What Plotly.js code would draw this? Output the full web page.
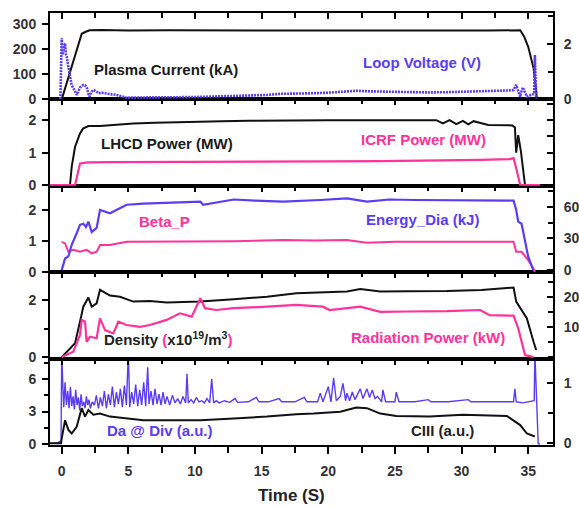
<!DOCTYPE html>
<html><head><meta charset="utf-8">
<script src="https://cdn.plot.ly/plotly-3.0.1.min.js"></script>
<style>html,body{margin:0;padding:0;background:#fff;} #chart{width:579px;height:507px;}</style>
</head><body><div id="chart"></div>
<script>
// ---------------- DATA ----------------
// Panel 1: Plasma current (kA, left) and loop voltage (V, right)
const tIp = [0, 0.5, 1.0, 1.5, 1.8, 2.1, 3, 5, 8, 10,
  12, 15, 18, 20, 22, 25, 28, 30, 32, 34.4,
  34.7, 35.0, 35.2, 35.4, 35.55, 35.65];
const plasmaCurrent = [0, 88, 176, 262, 270, 276, 277, 275, 276, 275,
  276, 275, 275, 274, 275, 275, 274, 275, 275, 276,
  250, 210, 172, 125, 60, 0];
const tVl = [-0.1, 0, 0.06, 0.12, 0.18, 0.25, 0.32, 0.38, 0.45, 0.5,
  0.57, 0.63, 0.75, 0.88, 1.0, 1.13, 1.25, 1.38, 1.5, 1.63,
  1.75, 1.88, 2.0, 2.08, 2.2, 2.38, 2.55, 2.75, 3.0, 3.38,
  3.75, 4.13, 4.5, 4.88, 6, 7.88, 9, 10.4, 11.5, 12.9,
  14, 15.4, 16.4, 17.6, 18.9, 20, 21, 22.1, 23, 23.9,
  25, 26, 27.6, 29, 30, 31.4, 32.5, 33.5, 33.9, 34.1,
  34.25, 34.4, 34.5, 34.6, 34.75, 34.9, 35.1, 35.3, 35.45, 35.5,
  35.55, 35.6];
const loopVoltage = [0.01, 2.19, 1.6, 1.77, 1.95, 2.01, 1.6, 1.53, 1.3, 1.17,
  0.95, 0.70, 0.5, 0.40, 0.25, 0.16, 0.3, 0.43, 0.48, 0.52,
  0.5, 0.43, 0.2, 0.10, 0.25, 0.34, 0.3, 0.22, 0.24, 0.2,
  0.18, 0.16, 0.1, 0.06, 0.07, 0.06, 0.08, 0.09, 0.1, 0.12,
  0.14, 0.16, 0.2, 0.2, 0.22, 0.24, 0.27, 0.31, 0.29, 0.28,
  0.27, 0.26, 0.25, 0.26, 0.27, 0.28, 0.3, 0.32, 0.34, 0.52,
  0.3, 0.1, 0.3, 0.43, 0.25, 0.1, 0.14, 0.16, 0.2, 1.59,
  0.8, 0.03];

// Panel 2: LHCD power and ICRF power (MW)
const tLh = [-0.9, 0.62, 0.75, 1.0, 1.2, 1.37, 1.6, 2.0, 2.87, 4,
  5.37, 7, 8.5, 10.4, 12, 14, 16, 17.6, 20, 23,
  26, 28.1, 28.6, 29.1, 29.6, 30.1, 30.5, 30.9, 32, 33.8,
  34.0, 34.1, 34.25, 34.45, 34.76, 35.9];
const lhcdPower = [0, 0, 0.57, 1.18, 1.4, 1.59, 1.74, 1.82, 1.82, 1.86,
  1.90, 1.92, 1.94, 1.97, 1.97, 1.98, 1.99, 2.0, 2.0, 2.0,
  2.0, 2.0, 1.9, 2.0, 1.88, 1.98, 1.87, 1.97, 1.85, 1.84,
  1.78, 1.0, 1.54, 1.05, 0, 0];
const tIc = [-0.9, 1.0, 1.37, 2, 4, 7, 10, 13, 16.4, 20,
  23.9, 27, 31.4, 33.6, 33.9, 34.1, 34.25, 34.4, 35.9];
const icrfPower = [0, 0, 0.67, 0.7, 0.71, 0.71, 0.72, 0.71, 0.72, 0.73,
  0.74, 0.75, 0.78, 0.80, 0.83, 0.52, 0.26, 0, 0];

// Panel 3: Beta_P (left) and diamagnetic energy (kJ, right)
const tBp = [0, 0.25, 0.5, 0.87, 1.37, 1.87, 2.25, 2.62, 2.87, 3.62,
  4.87, 7, 10.4, 13, 16.6, 19, 21.4, 22.9, 25, 28.9,
  31.5, 33.9, 34.1, 34.5, 35.0, 35.38, 35.5];
const betaP = [0.98, 0.93, 0.66, 0.72, 0.66, 0.72, 0.61, 0.66, 0.88, 0.88,
  0.98, 0.98, 0.98, 1.0, 1.04, 1.02, 1.04, 0.95, 0.98, 0.98,
  0.98, 0.98, 0.66, 0.66, 0.39, 0.13, 0];
const tWd = [0, 0.25, 0.5, 0.75, 1.12, 1.37, 1.62, 1.82, 2.0, 2.25,
  2.62, 2.87, 3.62, 4.87, 6.12, 8, 10.4, 10.6, 12.9, 14.5,
  16.6, 19.4, 21.4, 22.9, 24.6, 26.5, 28.9, 31.5, 33.9, 34.1,
  34.25, 34.5, 34.76, 35.0, 35.38];
const energyDia = [0, 11, 13, 24, 35, 43, 44, 41, 46, 36,
  40, 57, 54, 62, 63, 64, 65, 62, 67, 66,
  65, 66.5, 68, 65, 67, 66.5, 66.5, 66, 66, 57,
  46, 44, 28.5, 12.7, 0];

// Panel 4: density (1e19 m^-3, left) and radiation power (kW, right)
const tNe = [0, 0.37, 1.0, 1.37, 1.62, 2.0, 2.25, 2.62, 2.87, 3.62,
  4.37, 5.37, 6.62, 7.87, 10.4, 12.9, 15.4, 17.6, 20, 21.4,
  22.4, 23.9, 26, 28.9, 31.5, 33.9, 34.1, 34.4, 34.9, 35.4,
  35.6];
const density = [0, 0.19, 0.49, 1.24, 1.77, 2.09, 1.77, 1.89, 2.36, 2.16,
  2.12, 1.95, 1.97, 1.92, 1.95, 2.03, 2.12, 2.24, 2.27, 2.30,
  2.39, 2.30, 2.31, 2.32, 2.36, 2.44, 1.95, 1.72, 1.36, 0.54,
  0.25];
const tPr = [0, 0.87, 1.37, 1.5, 1.75, 1.87, 2.12, 2.62, 2.87, 3.25,
  3.87, 4.25, 4.87, 5.87, 6.62, 7.87, 8.87, 9.75, 10.4, 10.75,
  11.6, 12.9, 15.4, 17.6, 19.6, 20.1, 22.4, 23.9, 26, 28.9,
  31.4, 32.1, 33.9, 34.25, 34.76, 35.4];
const radPower = [0, 18, 74, 124, 118, 51, 68, 63, 129, 90,
  79, 118, 107, 101, 107, 124, 146, 135, 196, 163,
  157, 163, 168, 174, 168, 157, 168, 151, 152, 153,
  157, 140, 138, 96, 7, 0];

// Panel 5: D-alpha at divertor (a.u., left) and CIII (a.u., right)
const tDa = [-0.9, -0.3, -0.05, 0, 0.08,
  0.15, 0.25, 0.35, 0.45, 0.55, 0.65, 0.75, 0.85, 0.95, 1.05,
  1.15, 1.25, 1.35, 1.45, 1.55, 1.65, 1.75, 1.85, 1.95, 2.05,
  2.15, 2.3, 2.45, 2.6, 2.75, 2.9, 3.05, 3.2, 3.35, 3.5,
  3.65, 3.8, 3.95, 4.1, 4.25, 4.4, 4.55, 4.7, 4.85, 5.0,
  5.1, 5.25, 5.4, 5.55, 5.7, 5.85, 6.0, 6.15, 6.3, 6.45,
  6.55, 6.7, 6.85, 7.0, 7.15, 7.3, 7.45, 7.6, 7.75, 7.9,
  8.1, 8.3, 8.5, 8.7, 8.9, 9.1, 9.3, 9.4, 9.5, 9.7,
  9.9, 10.1, 10.3, 10.5, 10.7, 10.9, 11.1, 11.25, 11.4, 11.6,
  11.8, 12.2, 12.6, 13.0, 13.2, 14, 14.6, 14.8, 15.5, 16.3,
  16.5, 17.5, 18.2, 18.4, 19.2, 19.4, 19.6, 20.0, 20.2, 20.4,
  20.6, 20.9, 21.1, 21.3, 21.4, 21.6, 21.8, 22.0, 22.2, 22.4,
  22.6, 22.9, 23.1, 23.3, 23.5, 23.7, 24.0, 24.1, 24.3, 25.0,
  25.1, 25.3, 26.5, 27.5, 27.7, 29, 30.5, 30.7, 32, 33.9,
  34.0, 34.1, 34.6, 35.2, 35.45, 35.5, 35.75, 35.9];
const dAlpha = [0.05, 0.1, 0.3, 8.5, 5.5,
  3.4, 5.7, 3.6, 4.9, 3.3, 5.3, 3.5, 4.4, 3.2, 5.0,
  3.6, 4.3, 3.1, 4.6, 3.5, 3.9, 3.3, 4.4, 3.6, 4.1,
  3.3, 3.9, 3.6, 4.5, 3.3, 4.3, 3.5, 4.9, 3.3, 4.6,
  3.6, 5.3, 3.4, 4.8, 3.7, 5.1, 3.4, 5.4, 3.6, 8.5,
  3.4, 4.8, 3.7, 5.5, 3.5, 5.0, 3.6, 5.7, 3.5, 7.1,
  3.7, 4.9, 3.6, 5.1, 3.7, 4.6, 3.6, 4.8, 3.7, 4.4,
  3.6, 4.5, 3.8, 4.2, 3.7, 4.4, 3.8, 6.5, 3.8, 4.1,
  3.8, 4.3, 3.9, 4.0, 3.8, 4.2, 3.8, 6.0, 3.8, 4.0,
  3.8, 4.0, 3.85, 4.2, 3.85, 3.9, 4.3, 3.9, 3.9, 4.2,
  3.9, 3.9, 4.3, 3.9, 3.9, 4.7, 3.9, 5.3, 3.9, 6.1,
  4.0, 4.4, 5.6, 4.0, 4.7, 4.0, 4.8, 4.1, 4.6, 5.1,
  4.2, 5.1, 4.3, 5.0, 4.2, 4.4, 3.9, 5.0, 3.9, 3.9,
  4.8, 3.9, 3.9, 4.1, 3.9, 3.9, 4.1, 3.9, 3.9, 3.9,
  5.1, 3.9, 3.8, 3.9, 4.0, 8.5, 0, 0];
const tC3 = [-0.9, -0.05, 0, 0.25, 0.5, 0.75, 1.12, 1.5, 1.75, 2.0,
  2.37, 2.87, 3.62, 4.87, 6.12, 7.87, 10.4, 12.9, 15.4, 17.6,
  18.9, 20.9, 22.1, 22.9, 23.9, 25.1, 27.6, 30.1, 33.4, 34.4,
  34.9, 35.5];
const cIII = [0, 0, 0.08, 0.38, 0.22, 0.16, 0.27, 0.58, 0.44, 0.55,
  0.47, 0.49, 0.44, 0.41, 0.38, 0.38, 0.38, 0.41, 0.44, 0.48,
  0.49, 0.52, 0.59, 0.58, 0.49, 0.45, 0.44, 0.47, 0.45, 0.30,
  0.16, 0.11];

// Axis tick labels
const xTickVals = [0, 5, 10, 15, 20, 25, 30, 35];

// ---------------- STYLE ----------------
const FONT = "'Liberation Sans', Arial, sans-serif";
const BLUE = '#5b3cf5', PINK = '#ff3399', BLACK = '#111111';
const tickFont = {family: FONT, size: 14, color: '#333', weight: 'bold'};
const annFont = (c) => ({family: FONT, size: 15, color: c, weight: 'bold'});
const XR = [-0.88, 36.86];
const dom = (k) => [(5 - k) * 0.2, (6 - k) * 0.2];

function xAx(extra) {
  return Object.assign({range: XR, tickmode: 'array', tickvals: xTickVals, showgrid: false, zeroline: false,
    showline: true, linewidth: 2, linecolor: '#000', mirror: true, ticks: 'inside', side: 'top',
    ticklen: 6, tickwidth: 2, tickcolor: '#000', showticklabels: false, fixedrange: true,
    minor: {dtick: 2.5, tick0: 0, ticks: 'inside', ticklen: 5, tickwidth: 2, tickcolor: '#000'}}, extra);
}
function yL(k, range, extra) {
  return Object.assign({domain: dom(k), range: range, showgrid: false, zeroline: false, showline: true,
    linewidth: 2, linecolor: '#000', ticks: 'outside', ticklen: 6, tickwidth: 2, tickcolor: '#000',
    tickfont: tickFont, ticklabelstandoff: 3, fixedrange: true}, extra);
}
function yR(over, anchor, range, extra) {
  return Object.assign({overlaying: over, anchor: anchor, side: 'right', range: range, showgrid: false,
    zeroline: false, showline: true, linewidth: 2, linecolor: '#000', ticks: 'inside', ticklen: 6,
    tickwidth: 2, tickcolor: '#000', tickfont: tickFont, ticklabelstandoff: 6, fixedrange: true}, extra);
}

const ln = (c, w, dash) => ({color: c, width: w, dash: dash || 'solid'});
const traces = [
  // panel 5 (bottom)
  {x: tC3, y: cIII, xaxis: 'x', yaxis: 'y2', mode: 'lines', line: ln(BLACK, 2)},
  {x: tDa, y: dAlpha, xaxis: 'x', yaxis: 'y', mode: 'lines', line: ln(BLUE, 1.4)},
  {x: [], y: [], xaxis: 'x6', yaxis: 'y', mode: 'lines'},
  // panel 4
  {x: tNe, y: density, xaxis: 'x2', yaxis: 'y3', mode: 'lines', line: ln(BLACK, 2)},
  {x: tPr, y: radPower, xaxis: 'x2', yaxis: 'y4', mode: 'lines', line: ln(PINK, 2.2)},
  // panel 3
  {x: tBp, y: betaP, xaxis: 'x3', yaxis: 'y5', mode: 'lines', line: ln(PINK, 2)},
  {x: tWd, y: energyDia, xaxis: 'x3', yaxis: 'y6', mode: 'lines', line: ln(BLUE, 2.2)},
  // panel 2
  {x: tLh, y: lhcdPower, xaxis: 'x4', yaxis: 'y7', mode: 'lines', line: ln(BLACK, 2)},
  {x: tIc, y: icrfPower, xaxis: 'x4', yaxis: 'y8', mode: 'lines', line: ln(PINK, 2.2)},
  // panel 1
  {x: tIp, y: plasmaCurrent, xaxis: 'x5', yaxis: 'y9', mode: 'lines', line: ln(BLACK, 2)},
  {x: tVl, y: loopVoltage, xaxis: 'x5', yaxis: 'y10', mode: 'lines', line: ln(BLUE, 2.6, '2px,1px')}
];

// pixel helpers for annotation placement (plot area 50..553 x 13..445)
const PX = (px) => (px - 50) / 503;
const PY = (py) => (445 - py) / 432;
const ann = (text, px, py, color) => ({text: text, x: PX(px), y: PY(py), xref: 'paper', yref: 'paper',
  xanchor: 'left', yanchor: 'middle', showarrow: false, font: annFont(color)});

const layout = {
  width: 579, height: 507, margin: {l: 50, r: 26, t: 13, b: 62},
  paper_bgcolor: '#fff', plot_bgcolor: '#fff', showlegend: false,
  font: {family: FONT},
  xaxis: xAx({anchor: 'y', side: 'bottom', ticks: 'outside', ticklen: 7, showticklabels: true,
    tickfont: tickFont, ticklabelstandoff: 5,
    minor: {dtick: 2.5, tick0: 0, ticks: 'outside', ticklen: 6, tickwidth: 2, tickcolor: '#000'}}),
  xaxis6: xAx({overlaying: 'x', anchor: 'y', showline: false}),
  xaxis2: xAx({anchor: 'y3'}),
  xaxis3: xAx({anchor: 'y5'}),
  xaxis4: xAx({anchor: 'y7'}),
  xaxis5: xAx({anchor: 'y9'}),
  yaxis: yL(5, [-0.1, 7.9], {anchor: 'x', tickvals: [0, 3, 6], minor: {dtick: 1.5, ticks: 'outside', ticklen: 4, tickwidth: 2, tickcolor: '#000'}}),
  yaxis2: yR('y', 'x', [-0.03, 1.4], {tickvals: [0, 1], minor: {dtick: 0.5, ticks: 'inside', ticklen: 5, tickwidth: 2, tickcolor: '#000'}}),
  yaxis3: yL(4, [-0.05, 2.98], {anchor: 'x2', tickvals: [0, 2], minor: {dtick: 1, ticks: 'outside', ticklen: 4, tickwidth: 2, tickcolor: '#000'}}),
  yaxis4: yR('y3', 'x2', [-5, 283], {tickvals: [100, 200], minor: {dtick: 50, ticks: 'inside', ticklen: 5, tickwidth: 2, tickcolor: '#000'}}),
  yaxis5: yL(3, [0, 2.79], {anchor: 'x3', tickvals: [0, 1, 2]}),
  yaxis6: yR('y5', 'x3', [-2, 80], {tickvals: [0, 30, 60], minor: {dtick: 15, ticks: 'inside', ticklen: 5, tickwidth: 2, tickcolor: '#000'}}),
  yaxis7: yL(2, [-0.02, 2.64], {anchor: 'x4', tickvals: [0, 1, 2]}),
  yaxis8: yR('y7', 'x4', [-0.02, 2.64], {tickvals: [0, 0.5, 1, 1.5, 2, 2.5], showticklabels: false}),
  yaxis9: yL(1, [0, 345], {anchor: 'x5', tickvals: [0, 100, 200, 300]}),
  yaxis10: yR('y9', 'x5', [0, 3.1], {tickvals: [0, 2], minor: {dtick: 1, ticks: 'inside', ticklen: 5, tickwidth: 2, tickcolor: '#000'}}),
  annotations: [
    ann('Plasma Current (kA)', 92, 70, '#1a1a1a'),
    ann('Loop Voltage (V)', 361, 62, BLUE),
    ann('LHCD Power (MW)', 99, 143, '#1a1a1a'),
    ann('ICRF Power (MW)', 359, 139, PINK),
    ann('Beta_P', 137, 221, PINK),
    ann('Energy_Dia (kJ)', 364, 220, BLUE),
    ann("Density <span style='color:" + PINK + "'>(</span>x10<sup>19</sup>/m<sup>3</sup><span style='color:" + PINK + "'>)</span>", 102, 338, '#222'),
    ann('Radiation Power (kW)', 349, 337, PINK),
    ann('Da @ Div (a.u.)', 105, 430, BLUE),
    ann('CIII (a.u.)', 409, 430, '#222'),
    {text: 'Time (S)', x: PX(291), y: PY(495), xref: 'paper', yref: 'paper', xanchor: 'center', yanchor: 'middle',
      showarrow: false, font: {family: FONT, size: 17, color: '#222', weight: 'bold'}}
  ]
};

Plotly.newPlot('chart', traces, layout, {displayModeBar: false, staticPlot: true});
</script>
</body></html>
